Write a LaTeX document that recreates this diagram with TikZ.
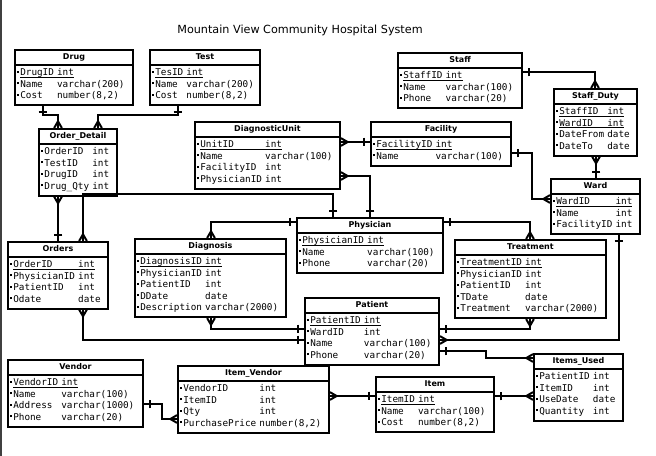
\documentclass[tikz,border=0pt]{standalone}
\usepackage{fontspec}
\setmainfont{DejaVu Sans}
\newfontfamily\attrfont{DejaVu Sans Mono}
\usetikzlibrary{shapes.multipart}

\newlength\colw
\newsavebox\pkbox
\newcommand\rowstrut{\rule[-2.725pt]{0pt}{8.625pt}}
\newcommand\titlestrut{\rule[-1.55pt]{0pt}{6.75pt}}
\newcommand\entbullet{\rule[2.2pt]{1.3pt}{1.3pt}\hspace{1.2pt}}
\newcommand\colsof[1]{\settowidth{\colw}{#1\ }}
\newcommand\enttitle[1]{\hbox to\hsize{\hss\titlestrut{\normalfont\bfseries\fontsize{6}{7}\selectfont #1}\hss}\par}
\newcommand\entattr[2]{\hbox to\hsize{\rowstrut\entbullet\makebox[\colw][l]{#1}#2\hss}\par}
\newcommand\entpk[2]{\sbox\pkbox{\makebox[\colw][l]{#1}#2}%
	\hbox to\hsize{\rowstrut\entbullet\rlap{\rule[-1.3pt]{\wd\pkbox}{0.5pt}}\usebox\pkbox\hss}\par}

\pgfdeclarearrow{
  name = crow,
  setup code = {
    \pgfarrowssettipend{0pt}
    \pgfarrowssetlineend{0pt}
    \pgfarrowssetbackend{-5pt}
    \pgfarrowssetvisualbackend{-5pt}
    \pgfarrowshullpoint{0pt}{3pt}
    \pgfarrowshullpoint{0pt}{-3pt}
    \pgfarrowshullpoint{-5pt}{0pt}
  },
  drawing code = {
    \pgfpathmoveto{\pgfqpoint{0pt}{2.9pt}}
    \pgfpathlineto{\pgfqpoint{-5pt}{0pt}}
    \pgfpathlineto{\pgfqpoint{0pt}{-2.9pt}}
    \pgfusepathqstroke
  },
}
\pgfdeclarearrow{
  name = one,
  setup code = {
    \pgfarrowssettipend{0pt}
    \pgfarrowssetlineend{0pt}
    \pgfarrowssetbackend{-5pt}
    \pgfarrowssetvisualbackend{-5pt}
    \pgfarrowshullpoint{0pt}{0pt}
    \pgfarrowshullpoint{-5pt}{3.2pt}
    \pgfarrowshullpoint{-5pt}{-3.2pt}
  },
  drawing code = {
    \pgfpathmoveto{\pgfqpoint{-4.6pt}{3.2pt}}
    \pgfpathlineto{\pgfqpoint{-4.6pt}{-3.2pt}}
    \pgfusepathqstroke
  },
}

\tikzstyle{entity} = [rectangle split, rectangle split parts=2, draw, line width=1.4pt, inner xsep=1.5pt, inner ysep=1.5pt, anchor=north west, font=\attrfont\fontsize{7}{8.625}\selectfont]
\tikzstyle{rel} = [line width=1.5pt]

\begin{document}
\begin{tikzpicture}[x=0.75pt,y=-0.75pt]
		\fill[white] (0,0) rectangle (656,456);
		\useasboundingbox (0,0) rectangle (656,456);
		\fill[black!75] (0,0) rectangle (2,456);
		\node (title) at (300,30) {\fontsize{8.4}{10}\selectfont Mountain View Community Hospital System};

		\node[entity, text width=85.6pt] (drug) at (14,49) {\enttitle{Drug}\nodepart{two}\colsof{DrugID}%
			\entpk{DrugID}{int}\entattr{Name}{varchar(200)}\entattr{Cost}{number(8,2)}};
		\node[entity, text width=79.6pt] (test) at (149,49) {\enttitle{Test}\nodepart{two}\colsof{TesID}%
			\entpk{TesID}{int}\entattr{Name}{varchar(200)}\entattr{Cost}{number(8,2)}};
		\node[entity, text width=55.6pt] (od) at (38,128) {\enttitle{Order\_Detail}\nodepart{two}\colsof{Drug\_Qty}%
			\entattr{OrderID}{int}\entattr{TestID}{int}\entattr{DrugID}{int}\entattr{Drug\_Qty}{int}};
		\node[entity, text width=72.1pt] (orders) at (7,241) {\enttitle{Orders}\nodepart{two}\colsof{PhysicianID}%
			\entpk{OrderID}{int}\entattr{PhysicianID}{int}\entattr{PatientID}{int}\entattr{Odate}{date}};
		\node[entity, text width=105.8pt] (du) at (194,121) {\enttitle{DiagnosticUnit}\nodepart{two}\colsof{PhysicianID}%
			\entpk{UnitID}{int}\entattr{Name}{varchar(100)}\entattr{FacilityID}{int}\entattr{PhysicianID}{int}};
		\node[entity, text width=102.1pt] (fac) at (370,121) {\enttitle{Facility}\nodepart{two}\colsof{FacilityID}%
			\entpk{FacilityID}{int}\entattr{Name}{varchar(100)}};
		\node[entity, text width=90.1pt] (staff) at (397,52) {\enttitle{Staff}\nodepart{two}\colsof{StaffID}%
			\entpk{StaffID}{int}\entattr{Name}{varchar(100)}\entattr{Phone}{varchar(20)}};
		\node[entity, text width=59.4pt] (sd) at (553,88) {\enttitle{Staff\_Duty}\nodepart{two}\colsof{DateFrom}%
			\entpk{StaffID}{int}\entpk{WardID}{int}\entattr{DateFrom}{date}\entattr{DateTo}{date}};
		\node[entity, text width=63.8pt] (ward) at (550,178) {\enttitle{Ward}\nodepart{two}\colsof{FacilityID}%
			\entpk{WardID}{int}\entattr{Name}{int}\entattr{FacilityID}{int}};
		\node[entity, text width=106.6pt] (phys) at (296,217) {\enttitle{Physician}\nodepart{two}\colsof{PhysicianID}%
			\entpk{PhysicianID}{int}\entattr{Name}{varchar(100)}\entattr{Phone}{varchar(20)}};
		\node[entity, text width=110.3pt] (diag) at (134,238) {\enttitle{Diagnosis}\nodepart{two}\colsof{DiagnosisID}%
			\entpk{DiagnosisID}{int}\entattr{PhysicianID}{int}\entattr{PatientID}{int}\entattr{DDate}{date}\entattr{Description}{varchar(2000)}};
		\node[entity, text width=110.3pt] (treat) at (454,239) {\enttitle{Treatment}\nodepart{two}\colsof{TreatmentID}%
			\entpk{TreatmentID}{int}\entattr{PhysicianID}{int}\entattr{PatientID}{int}\entattr{TDate}{date}\entattr{Treatment}{varchar(2000)}};
		\node[entity, text width=97.6pt] (pat) at (304,297) {\enttitle{Patient}\nodepart{two}\colsof{PatientID}%
			\entpk{PatientID}{int}\entattr{WardID}{int}\entattr{Name}{varchar(100)}\entattr{Phone}{varchar(20)}};
		\node[entity, text width=98.3pt] (vendor) at (7,359) {\enttitle{Vendor}\nodepart{two}\colsof{VendorID}%
			\entpk{VendorID}{int}\entattr{Name}{varchar(100)}\entattr{Address}{varchar(1000)}\entattr{Phone}{varchar(20)}};
		\node[entity, text width=110.3pt] (iv) at (177,365) {\enttitle{Item\_Vendor}\nodepart{two}\colsof{PurchasePrice}%
			\entattr{VendorID}{int}\entattr{ItemID}{int}\entattr{Qty}{int}\entattr{PurchasePrice}{number(8,2)}};
		\node[entity, text width=85.6pt] (item) at (375,376) {\enttitle{Item}\nodepart{two}\colsof{ItemID}%
			\entpk{ItemID}{int}\entattr{Name}{varchar(100)}\entattr{Cost}{number(8,2)}};
		\node[entity, text width=63.8pt] (iu) at (533,353) {\enttitle{Items\_Used}\nodepart{two}\colsof{PatientID}%
			\entattr{PatientID}{int}\entattr{ItemID}{int}\entattr{UseDate}{date}\entattr{Quantity}{int}};

		\draw[rel, one-crow] (drug.south -| 43,0) |- (58,115) -- (od.north -| 58,0);
		\draw[rel, one-crow] (test.south -| 178,0) |- (98,115) -- (od.north -| 98,0);
		\draw[rel, crow-one] (od.south -| 58,0) -- (orders.north -| 58,0);
		\draw[rel, one-crow] (phys.north -| 333,0) |- (83,194) -- (orders.north -| 83,0);
		\draw[rel, crow-one] (du.east |- 0,176) -| (phys.north -| 370,0);
		\draw[rel, crow-one] (du.east |- 0,142) -- (fac.west |- 0,142);
		\draw[rel, one-crow] (fac.east |- 0,153) -| (532,199) -- (ward.west |- 0,199);
		\draw[rel, one-crow] (staff.east |- 0,72) -| (sd.north -| 595,0);
		\draw[rel, crow-one] (sd.south -| 596,0) -- (ward.north -| 596,0);
		\draw[rel, one-crow] (phys.west |- 0,222) -| (diag.north -| 211,0);
		\draw[rel, one-crow] (phys.east |- 0,222) -| (treat.north -| 530,0);
		\draw[rel, crow-one] (diag.south -| 211,0) |- (pat.west |- 0,329);
		\draw[rel, crow-one] (orders.south -| 83,0) |- (pat.west |- 0,340);
		\draw[rel, crow-one] (treat.south -| 530,0) |- (pat.east |- 0,329);
		\draw[rel, one-crow] (ward.south -| 619,0) |- (pat.east |- 0,340);
		\draw[rel, one-crow] (pat.east |- 0,351) -| (486,358) -- (iu.west |- 0,358);
		\draw[rel, one-crow] (item.east |- 0,396) -- (iu.west |- 0,396);
		\draw[rel, crow-one] (iv.east |- 0,396) -- (item.west |- 0,396);
		\draw[rel, one-crow] (vendor.east |- 0,404) -| (162,419) -- (iv.west |- 0,419);
\end{tikzpicture}
\end{document}
